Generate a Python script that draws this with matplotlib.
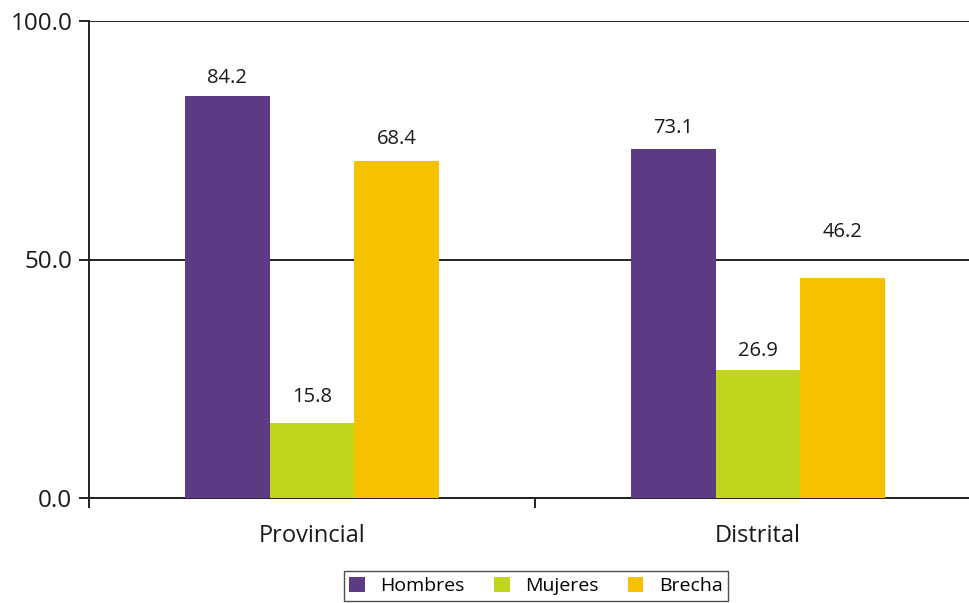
import matplotlib
matplotlib.use("Agg")
import matplotlib.pyplot as plt
import numpy as np

categories = ["Provincial", "Distrital"]
series = ["Hombres", "Mujeres", "Brecha"]
hombres = [84.3, 73.2]
mujeres = [15.7, 26.8]
brecha = [70.6, 46.1]
labels_hombres = ["84.2", "73.1"]
labels_mujeres = ["15.8", "26.9"]
labels_brecha = ["68.4", "46.2"]
yticks = [0.0, 50.0, 100.0]
ytick_labels = ["0.0", "50.0", "100.0"]

colors = ["#5C3A84", "#C1D51B", "#F6C200"]
label_offsets = [[13, 15], [19, 14], [16, 33]]  # points above bar, per series per category

plt.rcParams["font.family"] = ["Open Sans", "DejaVu Sans"]
fig = plt.figure(figsize=(9.7, 6.03), dpi=100)
ax = fig.add_axes([89/970, 1-498/603, 892/970, 477/603])

x = np.arange(len(categories))
w = 0.19
data = [hombres, mujeres, brecha]
labs = [labels_hombres, labels_mujeres, labels_brecha]
for i, (vals, lab, c) in enumerate(zip(data, labs, colors)):
    pos = x + (i - 1) * w
    ax.bar(pos, vals, width=w, color=c, label=series[i], zorder=3)
    for j, (p, v, t) in enumerate(zip(pos, vals, lab)):
        ax.annotate(t, (p, v), xytext=(0, label_offsets[i][j]), textcoords="offset points",
                    ha="center", va="center", fontsize=14.5, color="#1a1a1a")

ax.set_xlim(-0.5, 1.5)
ax.set_ylim(0, 100)
ax.set_yticks(yticks)
ax.set_yticklabels(ytick_labels, fontsize=17.5, color="#1a1a1a")
ax.yaxis.grid(True, color="#222222", linewidth=1.4, zorder=1)
ax.set_axisbelow(True)
ax.set_xticks(x)
ax.set_xticklabels(categories, fontsize=17, color="#1a1a1a")
ax.set_xticks([-0.5, 0.5, 1.5], minor=True)
ax.tick_params(axis="x", which="major", length=0, pad=19)
ax.tick_params(axis="x", which="minor", length=7, width=1.4, color="#222222", direction="out")
ax.tick_params(axis="y", length=7, width=1.4, color="#222222", pad=5)
for s in ["top", "right"]:
    ax.spines[s].set_visible(False)
for s in ["left", "bottom"]:
    ax.spines[s].set_color("#222222")
    ax.spines[s].set_linewidth(1.4)

leg = fig.legend(loc="center", bbox_to_anchor=(536/970, 1-586/603), ncol=3, fontsize=14,
                 frameon=True, fancybox=False, edgecolor="#222222", handlelength=0.8,
                 handleheight=0.8, columnspacing=1.5, handletextpad=0.8, borderpad=0.3)
leg.get_frame().set_linewidth(1.0)
fig.savefig("out.png", dpi=100)
